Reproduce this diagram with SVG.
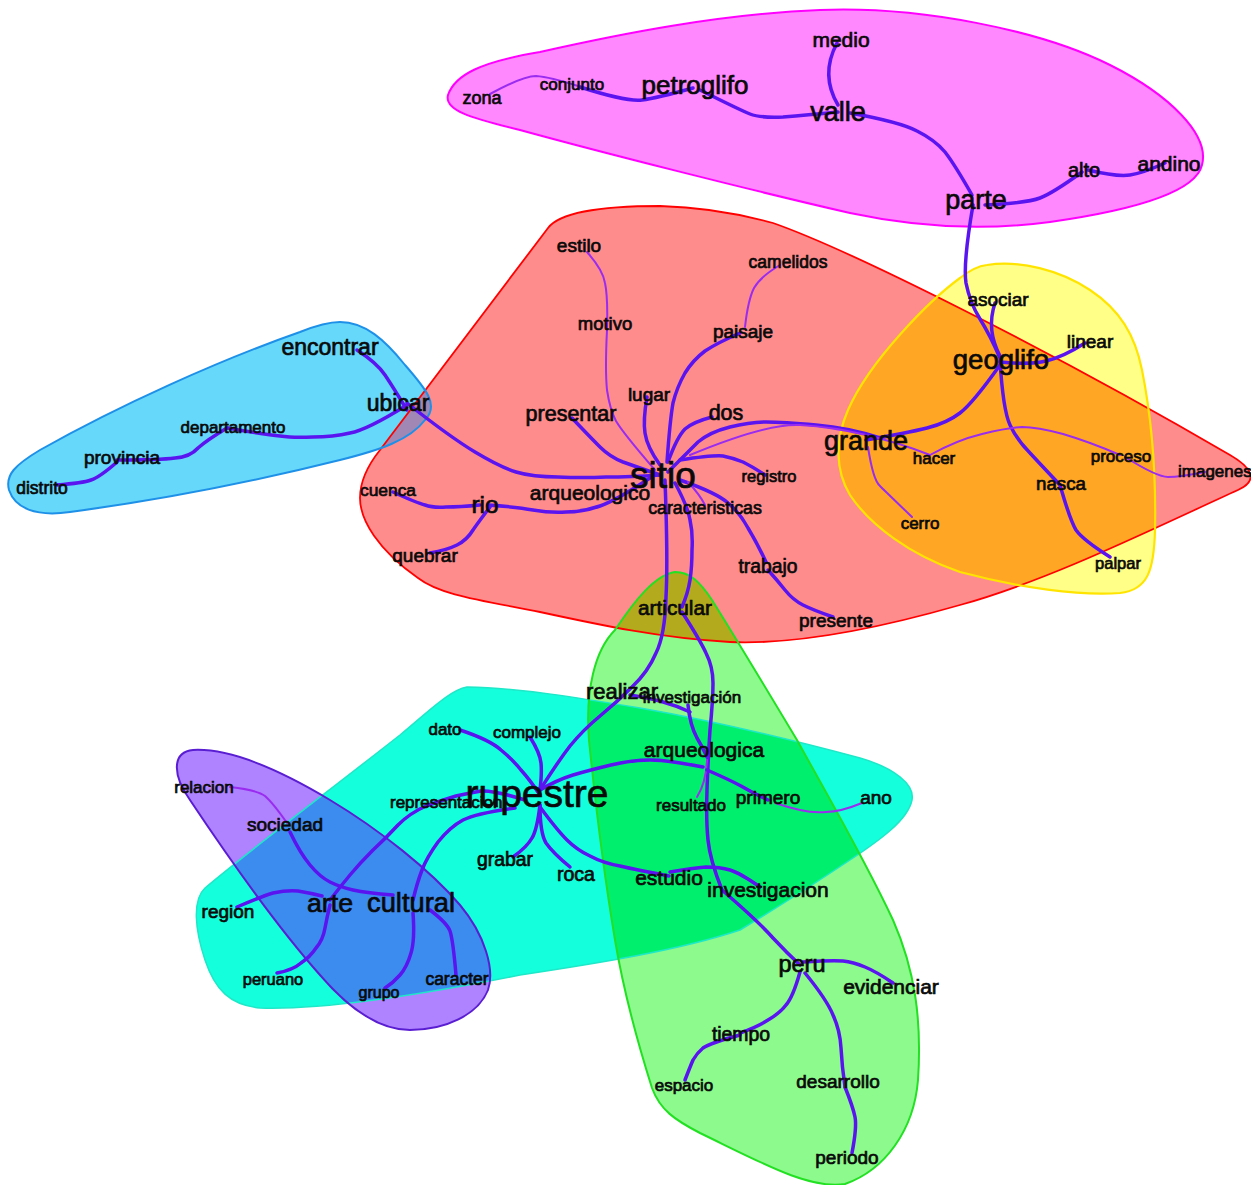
<svg xmlns="http://www.w3.org/2000/svg" width="1251" height="1185" viewBox="0 0 1251 1185">
<style>
.t{font-family:"Liberation Sans",Arial,sans-serif;fill:#0a0a0a;stroke:#0a0a0a;stroke-width:0.7;text-anchor:middle}
.s{text-anchor:start}
.e{fill:none;stroke:#5a14f0;stroke-linecap:round;stroke-linejoin:round;stroke-width:3.5}
.th{stroke:#9a2cf0;stroke-width:2}
.ol{fill:none}
</style>
<defs>
<path id="rM" d="M448,95 C455,75 480,62 540,52 C620,34 720,14 820,10 C920,6 1040,30 1110,65 C1170,95 1210,135 1202,165 C1195,195 1120,212 1050,222 C990,230 920,228 850,213 C750,190 600,152 520,130 C470,118 444,110 448,95 Z"/>
<path id="rR" d="M548,228 C560,212 600,206 660,206 C700,207 740,214 773,223 C850,250 1050,350 1230,455 C1256,470 1256,482 1238,490 C1150,530 1050,580 960,605 C880,628 800,645 730,642 C660,638 600,625 540,612 C480,600 440,595 418,578 C378,550 360,520 360,498 C360,480 368,465 380,450 Z"/>
<path id="rY" d="M987,265 C1020,260 1060,270 1090,290 C1120,310 1135,335 1142,370 C1152,420 1156,480 1155,530 C1154,570 1148,590 1120,593 C1080,596 1020,588 960,572 C910,555 870,525 850,495 C835,470 835,440 848,410 C870,360 930,300 960,278 C970,270 978,266 987,265 Z"/>
<path id="rB" d="M340,322 C365,322 385,340 405,365 C425,388 440,405 425,420 C410,440 380,450 340,460 C260,480 160,500 70,512 C35,517 15,508 9,490 C5,475 15,465 40,450 C120,405 220,360 300,332 C315,326 328,322 340,322 Z"/>
<path id="rG" d="M675,572 C690,572 700,582 712,600 C740,645 770,695 797,740 C830,800 865,860 893,920 C915,970 922,1020 918,1080 C914,1130 885,1170 845,1184 C810,1190 760,1162 700,1133 C675,1120 660,1110 652,1088 C640,1050 625,1000 615,940 C605,880 595,800 589,740 C585,690 595,650 615,630 C635,600 655,575 675,572 Z"/>
<path id="rC" d="M467,687 C520,688 580,698 640,708 C720,722 800,742 860,758 C895,768 915,785 912,800 C908,820 880,840 850,860 C820,880 790,900 740,930 C680,950 600,963 520,975 C420,995 320,1010 260,1008 C230,1005 215,990 205,960 C195,930 192,900 205,888 C250,850 330,790 400,735 C430,710 450,690 467,687 Z"/>
<path id="rP" d="M193,750 C230,748 280,770 330,800 C380,830 430,870 460,905 C485,935 495,970 488,990 C478,1015 445,1030 410,1030 C380,1030 350,1010 320,975 C280,930 230,860 190,800 C172,775 172,752 193,750 Z"/>
<clipPath id="cR"><use href="#rR"/></clipPath>
<clipPath id="cC"><use href="#rC"/></clipPath>
</defs>
<g id="clusters">
<use href="#rM" fill="#ff88ff"/>
<use href="#rR" fill="#ff8c8c"/>
<use href="#rY" fill="#ffff88"/>
<use href="#rB" fill="#66d8fa"/>
<use href="#rG" fill="#8cfa8c"/>
<use href="#rC" fill="#14ffdc"/>
<use href="#rP" fill="#af82ff"/>
<use href="#rY" fill="#ffa624" clip-path="url(#cR)"/>
<use href="#rB" fill="#a087b4" clip-path="url(#cR)"/>
<use href="#rG" fill="#b4aa1e" clip-path="url(#cR)"/>
<use href="#rG" fill="#00f06e" clip-path="url(#cC)"/>
<use href="#rP" fill="#3c8cf0" clip-path="url(#cC)"/>
<use href="#rM" class="ol" stroke="#ff00ff" stroke-width="2"/>
<use href="#rR" class="ol" stroke="#ff0000" stroke-width="1.8"/>
<use href="#rY" class="ol" stroke="#ffe400" stroke-width="2.2"/>
<use href="#rB" class="ol" stroke="#1e90e8" stroke-width="2"/>
<use href="#rC" class="ol" stroke="#1ee8c8" stroke-width="1.5"/>
<use href="#rG" class="ol" stroke="#22e022" stroke-width="2"/>
<use href="#rP" class="ol" stroke="#5a1ed2" stroke-width="2"/>
</g>
<g id="connectors">
<path class="e th" d="M490,94 Q523,76 536,76 Q550,77 578,86"/>
<path class="e" d="M580,87 Q627,102 642,100 Q657,98 693,88"/>
<path class="e" stroke-width="4.5" d="M700,90 Q740,110 750,114 Q760,118 783,117 Q807,115 838,112"/>
<path class="e" stroke-width="4.5" d="M837,43 Q820,75 838,105"/>
<path class="e" stroke-width="4.5" d="M850,113 Q900,122 917,131 Q935,140 945,152 Q955,165 972,195"/>
<path class="e" stroke-width="4.5" d="M985,205 Q1027,203 1040,198 Q1053,193 1082,172"/>
<path class="e" d="M1088,170 Q1117,177 1130,175 Q1143,173 1165,163"/>
<path class="e" stroke-width="4.5" d="M973,205 Q963,263 966,283 Q970,303 980,319 Q990,335 1000,358"/>
<path class="e" stroke-width="4.5" d="M1000,360 Q1003,410 1010,425 Q1017,440 1030,453 Q1043,467 1060,485"/>
<path class="e" stroke-width="4.5" d="M1060,485 Q1070,520 1076,530 Q1083,540 1110,557"/>
<path class="e" d="M995,303 Q986,330 1000,356"/>
<path class="e" d="M1000,362 Q1030,365 1046,361 Q1063,357 1085,343"/>
<path class="e" stroke-width="5.5" d="M1000,365 Q973,403 960,413 Q947,423 927,428 Q907,433 866,440"/>
<path class="e" stroke-width="5.5" d="M880,438 Q850,428 816,425 Q783,422 766,422 Q750,422 730,427 Q710,432 698,442 Q687,453 668,472"/>
<path class="e th" d="M690,455 Q767,423 800,425 Q833,427 866,435 Q900,443 930,455"/>
<path class="e th" d="M930,455 Q957,440 982,434 Q1007,428 1022,427 Q1037,427 1063,434 Q1090,442 1120,455"/>
<path class="e th" d="M1125,457 Q1157,477 1168,477 Q1180,477 1205,472"/>
<path class="e th" d="M868,447 Q873,480 880,486 Q887,493 912,517"/>
<path class="e" stroke-width="6.5" d="M407,403 Q450,437 475,452 Q500,467 516,472 Q533,477 558,477 Q583,478 606,477 Q630,477 660,475"/>
<path class="e" stroke-width="5.5" d="M357,350 Q377,363 385,375 Q393,387 407,410"/>
<path class="e" stroke-width="4.5" d="M407,405 Q367,430 350,433 Q333,437 313,437 Q293,438 280,436 Q267,435 228,428"/>
<path class="e" stroke-width="4.5" d="M227,428 Q207,440 198,448 Q190,457 175,458 Q160,460 117,460"/>
<path class="e" stroke-width="5.5" d="M117,462 Q100,477 91,480 Q83,483 57,485"/>
<path class="e" stroke-width="8.5" d="M650,478 Q617,500 600,506 Q583,512 566,512 Q550,513 533,510 Q517,507 488,505"/>
<path class="e" stroke-width="4.5" d="M393,492 Q417,503 425,505 Q433,508 446,507 Q460,507 480,505"/>
<path class="e" d="M490,507 Q480,520 473,530 Q467,540 457,545 Q447,550 430,553"/>
<path class="e" d="M572,418 Q590,437 600,447 Q610,457 623,462 Q637,467 660,475"/>
<path class="e th" d="M587,252 Q603,270 605,283 Q608,297 607,330"/>
<path class="e th" d="M607,330 Q605,370 607,390 Q610,410 616,421 Q623,433 655,470"/>
<path class="e" d="M647,397 Q643,420 645,433 Q647,447 660,465"/>
<path class="e" d="M740,333 Q717,343 705,351 Q693,360 685,373 Q677,387 673,403 Q670,420 667,462"/>
<path class="e th" stroke-width="1.5" d="M780,265 Q760,277 754,288 Q748,300 745,327"/>
<path class="e" d="M712,417 Q693,422 685,429 Q677,437 668,462"/>
<path class="e" d="M680,460 Q713,455 723,456 Q733,458 743,462 Q753,467 765,475"/>
<path class="e" d="M680,480 Q717,493 728,503 Q740,513 748,528 Q757,543 766,562"/>
<path class="e" d="M768,570 Q777,580 785,590 Q793,600 803,605 Q813,610 833,617"/>
<path class="e th" d="M688,482 Q700,495 705,505"/>
<path class="e" stroke-width="6.5" d="M665,480 Q668,560 666,597 Q665,635 656,653 Q648,672 632,687 Q617,702 600,716 Q583,730 570,746 Q557,763 540,790"/>
<path class="e" d="M675,483 Q688,507 690,520 Q693,533 692,550 Q692,567 690,580 Q688,593 682,607"/>
<path class="e" d="M682,612 Q700,640 706,653 Q713,667 713,683 Q713,700 710,730 Q708,760 707,790 Q706,820 708,840 Q710,860 722,890"/>
<path class="e" d="M722,890 Q760,923 773,938 Q787,953 800,965"/>
<path class="e" d="M630,695 Q665,700 690,712"/>
<path class="e" stroke-width="5.5" d="M688,705 Q690,725 697,738 Q703,748 707,757"/>
<path class="e th" d="M707,760 Q706,783 697,797"/>
<path class="e" d="M703,767 Q667,760 650,760 Q633,760 611,765 Q590,770 573,775 Q557,780 540,790"/>
<path class="e" d="M707,770 Q730,780 741,786 Q753,793 768,800"/>
<path class="e th" d="M775,803 Q787,807 800,810 Q813,813 826,812 Q840,812 862,803"/>
<path class="e" stroke-width="5.5" d="M540,807 Q557,830 567,840 Q577,850 590,856 Q603,863 620,866 Q637,870 669,876"/>
<path class="e" d="M670,872 Q693,868 706,867 Q720,867 730,870 Q740,873 760,887"/>
<path class="e" d="M540,795 Q530,780 521,770 Q513,760 501,750 Q490,740 460,730"/>
<path class="e" stroke-width="2.5" d="M540,790 Q542,773 541,763 Q540,753 530,737"/>
<path class="e" stroke-width="2.5" d="M540,805 Q537,830 532,838 Q527,847 513,857"/>
<path class="e" stroke-width="2.5" d="M540,805 Q540,833 546,843 Q553,853 570,867"/>
<path class="e" stroke-width="13" d="M525,800 Q493,790 481,791 Q470,793 456,796 Q443,800 426,806 Q410,813 398,825 Q387,837 373,850 Q360,863 350,875 Q340,887 330,900"/>
<path class="e" stroke-width="7.5" d="M515,808 Q477,813 463,820 Q450,827 438,842 Q427,857 422,870 Q417,883 413,900"/>
<path class="e th" d="M230,787 Q257,790 265,796 Q273,803 287,823"/>
<path class="e" stroke-width="3" d="M290,832 Q300,853 310,865 Q320,877 330,882 Q340,887 353,890 Q367,893 393,895"/>
<path class="e" stroke-width="2.5" d="M237,907 Q260,897 273,893 Q287,890 298,891 Q310,893 322,896"/>
<path class="e" stroke-width="2.5" d="M330,905 Q327,917 325,928 Q323,940 316,948 Q310,957 301,963 Q293,970 277,973"/>
<path class="e" stroke-width="2.5" d="M413,913 Q415,940 411,953 Q407,967 400,975 Q393,983 385,988"/>
<path class="e" stroke-width="4.5" d="M430,910 Q447,923 450,931 Q453,940 456,975"/>
<path class="e" stroke-width="3" d="M803,962 Q833,960 843,961 Q853,962 865,967 Q877,972 893,983"/>
<path class="e" stroke-width="3" d="M800,972 Q793,997 786,1005 Q780,1013 768,1020 Q757,1027 740,1033"/>
<path class="e" stroke-width="3" d="M740,1035 Q710,1043 703,1048 Q697,1053 693,1060 Q690,1067 685,1080"/>
<path class="e" stroke-width="3" d="M805,973 Q827,1000 833,1015 Q840,1030 841,1048 Q842,1067 845,1087"/>
<path class="e" stroke-width="3" d="M845,1087 Q853,1107 855,1117 Q857,1127 852,1153"/>
</g>
<g id="n-medio"><text class="t" x="841" y="47" font-size="21">medio</text></g>
<g id="n-petroglifo"><text class="t" x="695" y="94" font-size="26">petroglifo</text></g>
<g id="n-valle"><text class="t" x="838" y="121" font-size="27">valle</text></g>
<g id="n-zona"><text class="t" x="482" y="104" font-size="18">zona</text></g>
<g id="n-conjunto"><text class="t" x="572" y="90" font-size="17">conjunto</text></g>
<g id="n-parte"><text class="t" x="976" y="209" font-size="27">parte</text></g>
<g id="n-alto"><text class="t" x="1084" y="177" font-size="20">alto</text></g>
<g id="n-andino"><text class="t" x="1169" y="171" font-size="21">andino</text></g>
<g id="n-encontrar"><text class="t" x="330" y="355" font-size="23">encontrar</text></g>
<g id="n-ubicar"><text class="t" x="398" y="411" font-size="23">ubicar</text></g>
<g id="n-departamento"><text class="t" x="233" y="433" font-size="17">departamento</text></g>
<g id="n-provincia"><text class="t" x="122" y="464" font-size="19">provincia</text></g>
<g id="n-distrito"><text class="t" x="42" y="494" font-size="17.5">distrito</text></g>
<g id="n-estilo"><text class="t" x="579" y="252" font-size="19">estilo</text></g>
<g id="n-camelidos"><text class="t" x="788" y="268" font-size="17.5">camelidos</text></g>
<g id="n-motivo"><text class="t" x="605" y="330" font-size="18.5">motivo</text></g>
<g id="n-paisaje"><text class="t" x="743" y="338" font-size="19">paisaje</text></g>
<g id="n-lugar"><text class="t" x="649" y="401" font-size="19">lugar</text></g>
<g id="n-presentar"><text class="t" x="571" y="421" font-size="21.5">presentar</text></g>
<g id="n-dos"><text class="t" x="726" y="420" font-size="21.5">dos</text></g>
<g id="n-sitio"><text class="t" x="663" y="488" font-size="37">sitio</text></g>
<g id="n-registro"><text class="t" x="769" y="482" font-size="16.5">registro</text></g>
<g id="n-arqueologico"><text class="t" x="590" y="500" font-size="21">arqueologico</text></g>
<g id="n-caracteristicas"><text class="t" x="705" y="514" font-size="17.8">caracteristicas</text></g>
<g id="n-cuenca"><text class="t" x="388" y="496" font-size="17.4">cuenca</text></g>
<g id="n-rio"><text class="t" x="485" y="513" font-size="24.5">rio</text></g>
<g id="n-quebrar"><text class="t" x="425" y="562" font-size="19">quebrar</text></g>
<g id="n-trabajo"><text class="t" x="768" y="573" font-size="19.3">trabajo</text></g>
<g id="n-presente"><text class="t" x="836" y="627" font-size="19">presente</text></g>
<g id="n-grande"><text class="t" x="866" y="450" font-size="27">grande</text></g>
<g id="n-hacer"><text class="t" x="934" y="464" font-size="17">hacer</text></g>
<g id="n-cerro"><text class="t" x="920" y="529" font-size="17">cerro</text></g>
<g id="n-imagenes"><text class="t s" x="1178" y="477" font-size="17">imagenes</text></g>
<g id="n-proceso"><text class="t" x="1121" y="462" font-size="17">proceso</text></g>
<g id="n-nasca"><text class="t" x="1061" y="490" font-size="18.7">nasca</text></g>
<g id="n-palpar"><text class="t" x="1118" y="569" font-size="16.5">palpar</text></g>
<g id="n-geoglifo"><text class="t" x="1001" y="369" font-size="27.5">geoglifo</text></g>
<g id="n-asociar"><text class="t" x="998" y="306" font-size="19">asociar</text></g>
<g id="n-linear"><text class="t" x="1090" y="348" font-size="19">linear</text></g>
<g id="n-articular"><text class="t" x="675" y="615" font-size="20.8">articular</text></g>
<g id="n-realizar"><text class="t" x="622" y="699" font-size="22">realizar</text></g>
<g id="n-investigacion1"><text class="t" x="692" y="703" font-size="17">investigación</text></g>
<g id="n-dato"><text class="t" x="445" y="735" font-size="17">dato</text></g>
<g id="n-complejo"><text class="t" x="527" y="738" font-size="17">complejo</text></g>
<g id="n-arqueologica"><text class="t" x="704" y="757" font-size="21">arqueologica</text></g>
<g id="n-representacion"><text class="t s" x="390" y="808" font-size="17">representacion</text></g>
<g id="n-rupestre"><text class="t" x="537" y="807" font-size="39">rupestre</text></g>
<g id="n-resultado"><text class="t" x="691" y="811" font-size="17">resultado</text></g>
<g id="n-primero"><text class="t" x="768" y="804" font-size="19">primero</text></g>
<g id="n-ano"><text class="t" x="876" y="804" font-size="19">ano</text></g>
<g id="n-grabar"><text class="t" x="505" y="866" font-size="19.4">grabar</text></g>
<g id="n-roca"><text class="t" x="576" y="881" font-size="19.5">roca</text></g>
<g id="n-estudio"><text class="t" x="669" y="885" font-size="21">estudio</text></g>
<g id="n-investigacion2"><text class="t" x="768" y="897" font-size="21">investigacion</text></g>
<g id="n-relacion"><text class="t" x="204" y="793" font-size="17">relacion</text></g>
<g id="n-sociedad"><text class="t" x="285" y="831" font-size="19">sociedad</text></g>
<g id="n-arte"><text class="t" x="330" y="912" font-size="26.7">arte</text></g>
<g id="n-cultural"><text class="t" x="411" y="912" font-size="27.3">cultural</text></g>
<g id="n-region"><text class="t" x="228" y="918" font-size="19">region</text></g>
<g id="n-peruano"><text class="t" x="273" y="985" font-size="16.5">peruano</text></g>
<g id="n-grupo"><text class="t" x="379" y="998" font-size="16">grupo</text></g>
<g id="n-caracter"><text class="t" x="457" y="985" font-size="17.5">caracter</text></g>
<g id="n-peru"><text class="t" x="802" y="972" font-size="23.5">peru</text></g>
<g id="n-evidenciar"><text class="t" x="891" y="994" font-size="21">evidenciar</text></g>
<g id="n-tiempo"><text class="t" x="741" y="1041" font-size="19.4">tiempo</text></g>
<g id="n-espacio"><text class="t" x="684" y="1091" font-size="17">espacio</text></g>
<g id="n-desarrollo"><text class="t" x="838" y="1088" font-size="19">desarrollo</text></g>
<g id="n-periodo"><text class="t" x="847" y="1164" font-size="19">periodo</text></g>
</svg>
